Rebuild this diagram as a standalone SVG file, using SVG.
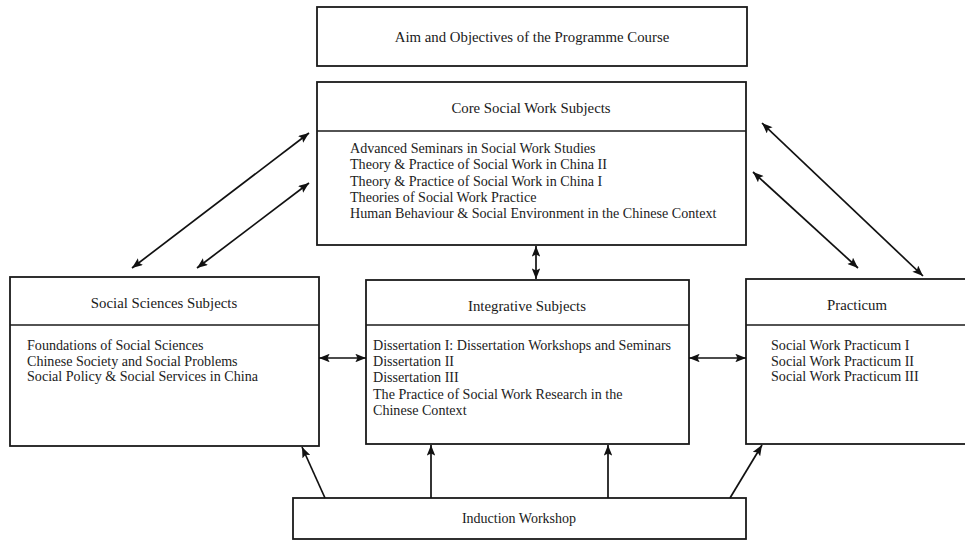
<svg xmlns="http://www.w3.org/2000/svg" width="965" height="540" viewBox="0 0 965 540">
<defs>
<marker id="ah" viewBox="0 0 10 8" refX="10" refY="4" markerWidth="11" markerHeight="8.5" markerUnits="userSpaceOnUse" orient="auto-start-reverse">
<path d="M0,0 L10,4 L0,8 L2,4 z" fill="#111"/>
</marker>
<style>
.box{fill:#fff;stroke:#1a1a1a;stroke-width:1.8}
.div{stroke:#1a1a1a;stroke-width:1.5}
.t{font-family:"Liberation Serif","Times New Roman",serif;font-size:14.8px;fill:#1a1a1a;text-anchor:middle}
.b{font-family:"Liberation Serif","Times New Roman",serif;font-size:14.1px;fill:#222}
.c{stroke:#111;stroke-width:1.7;fill:none}
.c1{marker-end:url(#ah)}
.c2{marker-start:url(#ah);marker-end:url(#ah)}
</style>
</defs>
<rect width="965" height="540" fill="#fff"/>
<g id="aim">
<rect class="box" x="317" y="7" width="430" height="59"/>
<text class="t" x="532" y="42">Aim and Objectives of the Programme Course</text>
</g>
<g id="core">
<rect class="box" x="317" y="82" width="429" height="163"/>
<line class="div" x1="317" y1="131" x2="746" y2="131"/>
<text class="t" x="531" y="113">Core Social Work Subjects</text>
<text class="b" x="350" y="153">Advanced Seminars in Social Work Studies</text>
<text class="b" x="350" y="169">Theory &amp; Practice of Social Work in China II</text>
<text class="b" x="350" y="186">Theory &amp; Practice of Social Work in China I</text>
<text class="b" x="350" y="202">Theories of Social Work Practice</text>
<text class="b" x="350" y="218">Human Behaviour &amp; Social Environment in the Chinese Context</text>
</g>
<g id="social">
<rect class="box" x="10" y="277" width="309" height="169"/>
<line class="div" x1="10" y1="325" x2="319" y2="325"/>
<text class="t" x="164" y="308">Social Sciences Subjects</text>
<text class="b" x="27" y="350">Foundations of Social Sciences</text>
<text class="b" x="27" y="366">Chinese Society and Social Problems</text>
<text class="b" x="27" y="381">Social Policy &amp; Social Services in China</text>
</g>
<g id="integrative">
<rect class="box" x="366" y="280" width="323" height="164"/>
<line class="div" x1="366" y1="325" x2="689" y2="325"/>
<text class="t" x="527" y="311">Integrative Subjects</text>
<text class="b" x="373" y="350">Dissertation I: Dissertation Workshops and Seminars</text>
<text class="b" x="373" y="366">Dissertation II</text>
<text class="b" x="373" y="382">Dissertation III</text>
<text class="b" x="373" y="399">The Practice of Social Work Research in the</text>
<text class="b" x="373" y="415">Chinese Context</text>
</g>
<g id="practicum">
<rect class="box" x="746" y="279" width="230" height="165"/>
<line class="div" x1="746" y1="325" x2="965" y2="325"/>
<text class="t" x="857" y="310">Practicum</text>
<text class="b" x="771" y="350">Social Work Practicum I</text>
<text class="b" x="771" y="366">Social Work Practicum II</text>
<text class="b" x="771" y="381">Social Work Practicum III</text>
</g>
<g id="induction">
<rect class="box" x="293" y="498" width="453" height="41"/>
<text class="t" x="519" y="523" style="font-size:14px">Induction Workshop</text>
</g>
<g id="connectors">
<line class="c c2" x1="132" y1="268" x2="309" y2="133"/>
<line class="c c2" x1="197" y1="268" x2="309" y2="183"/>
<line class="c c2" x1="762" y1="123" x2="923" y2="276"/>
<line class="c c2" x1="753" y1="172" x2="858" y2="268"/>
<line class="c c2" x1="536" y1="246" x2="536" y2="279"/>
<line class="c c2" x1="319" y1="358" x2="366" y2="358"/>
<line class="c c2" x1="689" y1="358" x2="746" y2="358"/>
<line class="c c1" x1="325" y1="498" x2="302" y2="447"/>
<line class="c c1" x1="431" y1="498" x2="431" y2="445"/>
<line class="c c1" x1="608" y1="498" x2="608" y2="445"/>
<line class="c c1" x1="730" y1="498" x2="762" y2="445"/>
</g>
</svg>
